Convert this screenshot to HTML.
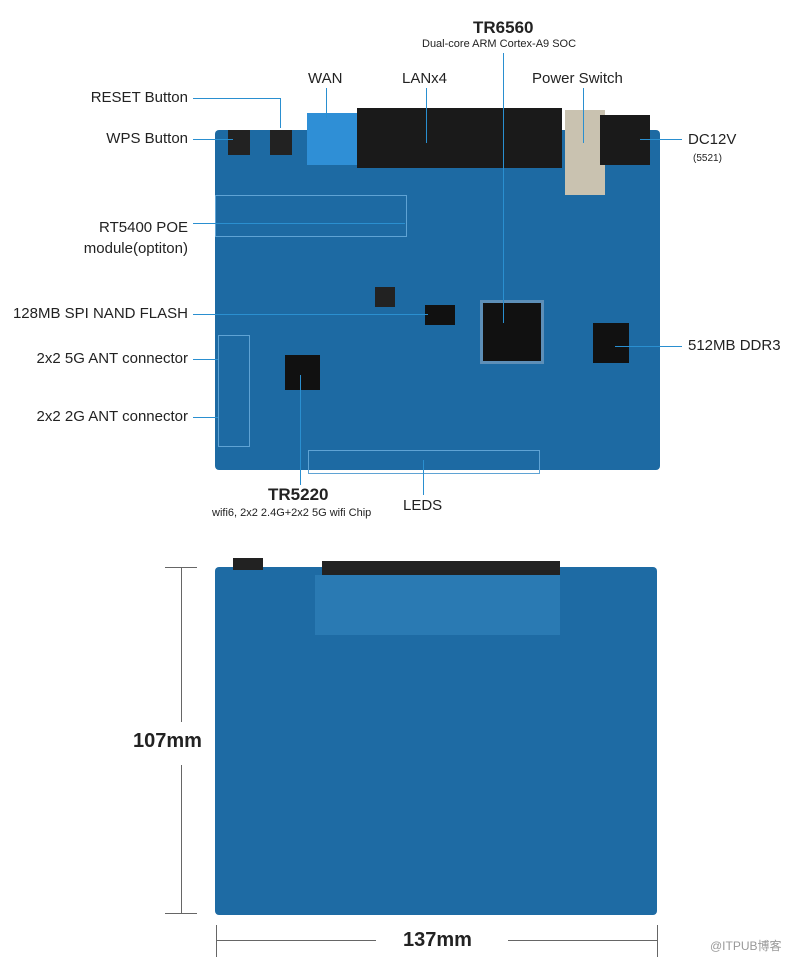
<!DOCTYPE html>
<html><head><meta charset="utf-8"><style>
body{margin:0;width:800px;height:962px;background:#fff;position:relative;overflow:hidden;font-family:"Liberation Sans","Noto Sans CJK SC",sans-serif;color:#222}
.a{position:absolute;white-space:nowrap}
.l{font-size:15px}
.r{text-align:right}
.ln{position:absolute;background:#2a8fd0}
.b{position:absolute}
</style></head><body>
<!-- top board -->
<div class="b" style="left:215px;top:130px;width:445px;height:340px;background:#1d6aa3;border-radius:4px"></div>
<div class="b" style="left:215px;top:195px;width:190px;height:40px;border:1px solid #5fa3d4"></div>
<div class="b" style="left:307px;top:113px;width:52px;height:52px;background:#2f8fd6"></div>
<div class="b" style="left:357px;top:108px;width:205px;height:60px;background:#1a1a1a"></div>
<div class="b" style="left:565px;top:110px;width:40px;height:85px;background:#c9c2b0"></div>
<div class="b" style="left:600px;top:115px;width:50px;height:50px;background:#1a1a1a"></div>
<div class="b" style="left:228px;top:130px;width:22px;height:25px;background:#222"></div>
<div class="b" style="left:270px;top:130px;width:22px;height:25px;background:#222"></div>
<div class="b" style="left:480px;top:300px;width:58px;height:58px;background:#111;border:3px solid #5d8fb8"></div>
<div class="b" style="left:593px;top:323px;width:36px;height:40px;background:#111"></div>
<div class="b" style="left:285px;top:355px;width:35px;height:35px;background:#111"></div>
<div class="b" style="left:425px;top:305px;width:30px;height:20px;background:#111"></div>
<div class="b" style="left:375px;top:287px;width:20px;height:20px;background:#222"></div>
<div class="b" style="left:308px;top:450px;width:230px;height:22px;border:1px solid #5fa3d4"></div>
<div class="b" style="left:218px;top:335px;width:30px;height:110px;border:1px solid #5fa3d4"></div>
<!-- bottom board -->
<div class="b" style="left:215px;top:567px;width:442px;height:348px;background:#1e6ba4;border-radius:4px"></div>
<div class="b" style="left:322px;top:561px;width:238px;height:14px;background:#222"></div>
<div class="b" style="left:315px;top:575px;width:245px;height:60px;background:#2a7ab3"></div>
<div class="b" style="left:233px;top:558px;width:30px;height:12px;background:#222"></div>
<!-- leader lines -->
<div class="ln" style="left:193px;top:98px;width:88px;height:1px"></div>
<div class="ln" style="left:280px;top:98px;width:1px;height:30px"></div>
<div class="ln" style="left:193px;top:139px;width:40px;height:1px"></div>
<div class="ln" style="left:326px;top:88px;width:1px;height:30px"></div>
<div class="ln" style="left:426px;top:88px;width:1px;height:55px"></div>
<div class="ln" style="left:583px;top:88px;width:1px;height:55px"></div>
<div class="ln" style="left:503px;top:53px;width:1px;height:270px"></div>
<div class="ln" style="left:640px;top:139px;width:42px;height:1px"></div>
<div class="ln" style="left:193px;top:223px;width:212px;height:1px"></div>
<div class="ln" style="left:193px;top:314px;width:235px;height:1px"></div>
<div class="ln" style="left:193px;top:359px;width:25px;height:1px"></div>
<div class="ln" style="left:193px;top:417px;width:25px;height:1px"></div>
<div class="ln" style="left:615px;top:346px;width:67px;height:1px"></div>
<div class="ln" style="left:300px;top:375px;width:1px;height:110px"></div>
<div class="ln" style="left:423px;top:460px;width:1px;height:35px"></div>
<!-- labels -->
<div class="a" style="left:473px;top:18px;font-size:17px;font-weight:bold">TR6560</div>
<div class="a" style="left:422px;top:38px;font-size:11px">Dual-core ARM Cortex-A9 SOC</div>
<div class="a l" style="left:308px;top:70px">WAN</div>
<div class="a l" style="left:402px;top:70px">LANx4</div>
<div class="a l" style="left:532px;top:70px">Power Switch</div>
<div class="a l r" style="right:612px;top:89px">RESET Button</div>
<div class="a l r" style="right:612px;top:130px">WPS Button</div>
<div class="a l" style="left:688px;top:131px">DC12V</div>
<div class="a" style="left:693px;top:153px;font-size:10px">(5521)</div>
<div class="a l r" style="right:612px;top:219px">RT5400 POE</div>
<div class="a l r" style="right:612px;top:240px">module(optiton)</div>
<div class="a l r" style="right:612px;top:305px">128MB SPI NAND FLASH</div>
<div class="a l r" style="right:612px;top:350px">2x2 5G ANT connector</div>
<div class="a l r" style="right:612px;top:408px">2x2 2G ANT connector</div>
<div class="a l" style="left:688px;top:337px">512MB DDR3</div>
<div class="a" style="left:268px;top:485px;font-size:17px;font-weight:bold">TR5220</div>
<div class="a" style="left:212px;top:507px;font-size:11px">wifi6, 2x2 2.4G+2x2 5G wifi Chip</div>
<div class="a l" style="left:403px;top:497px">LEDS</div>
<!-- dimensions -->
<div class="b" style="left:181px;top:567px;width:1px;height:155px;background:#666"></div>
<div class="b" style="left:181px;top:765px;width:1px;height:148px;background:#666"></div>
<div class="b" style="left:165px;top:567px;width:32px;height:1px;background:#666"></div>
<div class="b" style="left:165px;top:913px;width:32px;height:1px;background:#666"></div>
<div class="a" style="left:133px;top:730px;font-size:20px;font-weight:bold">107mm</div>
<div class="b" style="left:216px;top:940px;width:160px;height:1px;background:#666"></div>
<div class="b" style="left:508px;top:940px;width:149px;height:1px;background:#666"></div>
<div class="b" style="left:216px;top:925px;width:1px;height:32px;background:#666"></div>
<div class="b" style="left:657px;top:925px;width:1px;height:32px;background:#666"></div>
<div class="a" style="left:403px;top:929px;font-size:20px;font-weight:bold">137mm</div>
<div class="a" style="left:710px;top:937px;font-size:12px;color:#999">@ITPUB博客</div>
</body></html>
